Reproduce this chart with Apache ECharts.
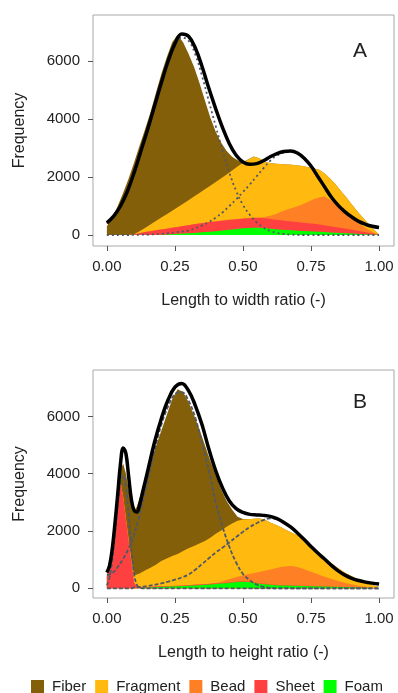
<!DOCTYPE html>
<html><head><meta charset="utf-8">
<script src="https://cdn.jsdelivr.net/npm/echarts@6/dist/echarts.min.js"></script>
<style>html,body{margin:0;padding:0;background:#fff}#c{width:398px;height:693px}</style>
</head><body><div id="c"></div><script>
// ---------- Panel A : length to width ratio ----------
const histXA = [0,0.02,0.04,0.06,0.08,0.1,0.12,0.14,0.16,0.18,0.2,0.22,0.24,0.26,0.28,0.3,0.32,0.34,0.36,0.38,0.4,0.42,0.44,0.46,0.48,0.5,0.52,0.54,0.56,0.58,0.6,0.62,0.64,0.66,0.68,0.7,0.72,0.74,0.76,0.78,0.8,0.82,0.84,0.86,0.88,0.9,0.92,0.94,0.96,0.98,1.0];
const fiberA = [300,600,1000,1460,1950,2470,2950,3400,3860,4420,4950,5410,5810,5940,5570,5050,4470,3800,3070,2350,1730,1220,810,480,220,20,10,5,0,0,0,0,0,0,0,0,0,0,0,0,0,0,0,0,0,0,0,0,0,0,0];
const fragmentA = [0,0,0,0,0,10,70,140,230,320,410,500,590,680,770,860,960,1050,1160,1250,1360,1465,1570,1680,1805,1915,2010,2095,2045,1900,1820,1740,1650,1560,1490,1410,1320,1190,1070,960,790,730,690,620,550,460,370,290,210,110,20];
const beadA = [0,0,0,0,0,0,0,0,0,0,0,0,0,0,0,0,0,0,0,0,0,5,10,10,10,15,15,15,15,45,105,190,295,385,465,545,635,745,845,930,995,915,785,655,525,405,300,195,110,50,0];
const sheetA = [0,0,0,0,0,20,60,100,130,160,180,200,220,240,260,280,300,315,320,335,340,340,340,340,335,330,335,340,340,335,335,330,320,315,305,295,285,275,265,250,235,215,195,175,155,135,110,85,60,30,0];
const foamA = [0,0,0,0,0,0,0,0,0,0,10,20,30,40,50,60,70,85,100,115,130,150,170,190,210,230,240,250,250,240,220,200,185,170,160,150,140,130,120,110,100,90,80,70,60,50,40,30,20,10,0];
const curveXA = [0,0.025,0.05,0.075,0.1,0.125,0.15,0.175,0.2,0.225,0.25,0.275,0.3,0.325,0.35,0.375,0.4,0.425,0.45,0.475,0.5,0.525,0.55,0.575,0.6,0.625,0.65,0.675,0.7,0.725,0.75,0.775,0.8,0.825,0.85,0.875,0.9,0.925,0.95,0.975,1.0];
const fitA = [420,650,1000,1500,2150,2900,3650,4450,5250,6000,6600,6930,6850,6450,5800,5050,4350,3700,3150,2750,2520,2440,2460,2560,2700,2810,2880,2900,2830,2650,2380,2020,1660,1300,1020,800,620,470,370,300,260];
const comp1A = [400,630,985,1490,2140,2885,3635,4425,5210,5940,6510,6810,6700,6220,5470,4600,3750,2920,2150,1520,1040,700,440,260,140,70,35,15,5,0,0,0,0,0,0,0,0,0,0,0,0];
const comp2A = [0,0,0,0,5,10,15,25,40,60,90,120,150,230,330,450,600,780,1000,1230,1480,1740,2020,2300,2560,2740,2845,2885,2825,2650,2380,2020,1660,1300,1020,800,620,470,370,300,260];

// ---------- Panel B : length to height ratio ----------
const histXB = [0,0.01,0.02,0.03,0.04,0.05,0.06,0.07,0.08,0.09,0.1,0.11,0.12,0.14,0.16,0.18,0.2,0.22,0.24,0.26,0.28,0.3,0.32,0.34,0.36,0.38,0.4,0.42,0.44,0.46,0.48,0.5,0.52,0.54,0.56,0.58,0.6,0.62,0.64,0.66,0.68,0.7,0.72,0.74,0.76,0.78,0.8,0.82,0.84,0.86,0.88,0.9,0.92,0.94,0.96,0.98,1.0];
const fiberB = [80,50,50,100,180,420,1160,1550,1740,1970,2250,2370,2630,3180,3680,4130,4550,5010,5470,5750,5550,5100,4570,3990,3350,2690,2050,1430,900,490,140,20,0,0,0,0,0,0,0,0,0,0,0,0,0,0,0,0,0,0,0,0,0,0,0,0,0];
const fragmentB = [0,0,0,0,20,30,40,50,60,80,250,435,485,580,670,760,880,965,1050,1110,1200,1290,1360,1430,1510,1600,1715,1790,1865,1910,1960,1950,1920,1900,1870,1790,1640,1520,1390,1260,1160,1110,1020,920,830,740,650,570,490,410,340,280,230,170,130,85,50];
const beadB = [0,0,0,0,0,0,0,0,0,0,0,0,0,0,0,0,0,0,0,0,0,0,0,0,0,5,15,50,90,135,165,205,255,325,395,455,525,580,630,665,680,645,590,525,460,395,330,280,225,180,135,100,65,45,20,5,0];
const sheetB = [400,900,1500,2200,2950,3700,3150,2400,1650,900,200,40,25,20,20,20,20,20,20,20,20,20,20,20,20,20,20,15,15,15,15,15,15,15,15,15,15,10,10,10,10,10,10,10,10,10,10,5,5,5,5,5,5,5,5,5,0];
const foamB = [0,0,0,0,0,0,0,0,0,0,0,5,10,20,30,40,50,55,60,70,80,90,100,110,120,135,150,165,180,200,220,230,220,190,160,140,120,110,100,95,90,85,80,75,70,65,60,55,50,45,40,35,30,20,15,5,0];
const curveXB = [0,0.01,0.02,0.03,0.04,0.05,0.06,0.07,0.08,0.09,0.1,0.11,0.12,0.13,0.14,0.15,0.175,0.2,0.225,0.25,0.275,0.3,0.325,0.35,0.375,0.4,0.425,0.45,0.475,0.5,0.525,0.55,0.575,0.6,0.625,0.65,0.675,0.7,0.725,0.75,0.775,0.8,0.825,0.85,0.875,0.9,0.925,0.95,0.975,1.0];
const fitB = [550,800,1400,2300,3300,4350,4900,4700,3900,3100,2720,2660,2900,3300,3700,4100,5100,5920,6580,7020,7150,6900,6380,5700,4850,4100,3500,3050,2780,2650,2580,2560,2545,2510,2430,2300,2140,1930,1700,1460,1230,1020,800,610,460,350,270,215,180,150];
const comp0B = [100,400,1000,1900,2900,3700,3950,3500,2600,1400,500,120,20,0,0,0,0,0,0,0,0,0,0,0,0,0,0,0,0,0,0,0,0,0,0,0,0,0,0,0,0,0,0,0,0,0,0,0,0,0];
const comp1B = [470,480,540,620,740,880,1030,1200,1380,1600,1870,2200,2560,2950,3350,3750,4800,5700,6350,6780,6850,6550,5950,5050,4100,3000,2150,1450,900,500,280,130,50,15,0,0,0,0,0,0,0,0,0,0,0,0,0,0,0,0];
const comp2B = [0,0,0,0,0,0,0,0,0,0,30,35,45,55,65,80,120,170,230,300,380,480,650,850,1050,1250,1420,1600,1790,1970,2140,2270,2380,2440,2420,2290,2135,1930,1700,1460,1230,1020,800,610,460,350,270,215,180,150];

// ---------- labels ----------
const legendNames = ['Fiber','Fragment','Bead','Sheet','Foam'];
const xTicks = [0,0.25,0.5,0.75,1];
const yTicks = [0,2000,4000,6000];
const xTitleA = 'Length to width ratio (-)';
const xTitleB = 'Length to height ratio (-)';
const yTitle = 'Frequency';
const panelLabels = ['A','B'];

const FONT = '"Liberation Sans", Arial, sans-serif';
const TXT = '#222';
const colors = {Fiber:'#845F09', Fragment:'#FFB90F', Bead:'#FF7F24', Sheet:'#FF4040', Foam:'#00FF00'};

// stacked histogram: cumulative tops (Foam at bottom, Fiber on top), drawn as overlapping areas
function stackedHist(idx, xs, layers) {   // layers: bottom -> top, [name, values]
  const out = [];
  let acc = xs.map(() => 0);
  const tops = layers.map(([name, vals]) => { acc = acc.map((a, i) => a + vals[i]); return [name, acc.slice()]; });
  tops.reverse().forEach(([name, top]) => {
    out.push({name, type:'line', xAxisIndex:idx, yAxisIndex:idx, data:xs.map((x, i) => [x, top[i]]),
      symbol:'none', showSymbol:false, lineStyle:{width:0}, itemStyle:{color:colors[name]},
      areaStyle:{color:colors[name], opacity:1, origin:0}, emphasis:{disabled:true}, z:2, silent:true});
  });
  return out; // Fiber first (behind), Foam last (front)
}
function curve(idx, xs, ys, fit, dash) {
  return {type:'line', xAxisIndex:idx, yAxisIndex:idx, data:xs.map((x, i) => [x, ys[i]]), symbol:'none', showSymbol:false,
    smooth:0.4, silent:true, emphasis:{disabled:true},
    lineStyle: fit ? {color:'#000', width:3.5} : {color:'#505866', width:1.8, type:dash},
    z: fit ? 5 : 4};
}
function xAx(idx, name) {
  return {gridIndex:idx, type:'value', min:-0.051, max:1.055,
    axisLine:{show:false, onZero:false}, splitLine:{show:false},
    axisTick:{show:true, customValues:xTicks, length:5, lineStyle:{color:'#555'}},
    axisLabel:{customValues:xTicks, formatter:v => v.toFixed(2), fontSize:15, color:TXT, fontFamily:FONT, margin:13},
    name, nameLocation:'middle', nameGap:47, nameTextStyle:{fontSize:16, color:TXT, fontFamily:FONT}};
}
function yAx(idx, min, max) {
  return {gridIndex:idx, type:'value', min, max,
    axisLine:{show:false, onZero:false}, splitLine:{show:false},
    axisTick:{show:true, customValues:yTicks, length:5, lineStyle:{color:'#555'}},
    axisLabel:{customValues:yTicks, formatter:v => String(v), fontSize:15, color:TXT, fontFamily:FONT, margin:13},
    name:yTitle, nameLocation:'middle', nameGap:65, nameRotate:90, nameTextStyle:{fontSize:16, color:TXT, fontFamily:FONT}};
}

const chart = echarts.init(document.getElementById('c'));
chart.setOption({
  animation:false,
  backgroundColor:'#fff',
  grid:[
    {left:93, top:15, width:301, height:231, show:true, borderColor:'#a8a8a8', borderWidth:1},
    {left:93, top:370, width:301, height:228, show:true, borderColor:'#a8a8a8', borderWidth:1}
  ],
  xAxis:[xAx(0, xTitleA), xAx(1, xTitleB)],
  yAxis:[yAx(0, -379, 7586), yAx(1, -339, 7620)],
  legend:{data:legendNames, left:26, top:674, width:372, icon:'rect', itemWidth:13, itemHeight:13, itemGap:9,
    textStyle:{fontSize:15, color:TXT, fontFamily:FONT, padding:[0,0,0,3]}},
  graphic:[
    {type:'text', x:360, y:51, style:{text:panelLabels[0], font:'21px ' + FONT, fill:TXT, align:'center', verticalAlign:'middle'}},
    {type:'text', x:360, y:402, style:{text:panelLabels[1], font:'21px ' + FONT, fill:TXT, align:'center', verticalAlign:'middle'}}
  ],
  series:[
    ...stackedHist(0, histXA, [['Foam', foamA], ['Sheet', sheetA], ['Bead', beadA], ['Fragment', fragmentA], ['Fiber', fiberA]]),
    curve(0, curveXA, comp1A, false, [2,3]), curve(0, curveXA, comp2A, false, [2,3]), curve(0, curveXA, fitA, true),
    ...stackedHist(1, histXB, [['Foam', foamB], ['Sheet', sheetB], ['Bead', beadB], ['Fragment', fragmentB], ['Fiber', fiberB]]),
    curve(1, curveXB, comp0B, false, [4,2]), curve(1, curveXB, comp1B, false, [4,2]), curve(1, curveXB, comp2B, false, [4,2]),
    curve(1, curveXB, fitB, true)
  ]
});
</script></body></html>
